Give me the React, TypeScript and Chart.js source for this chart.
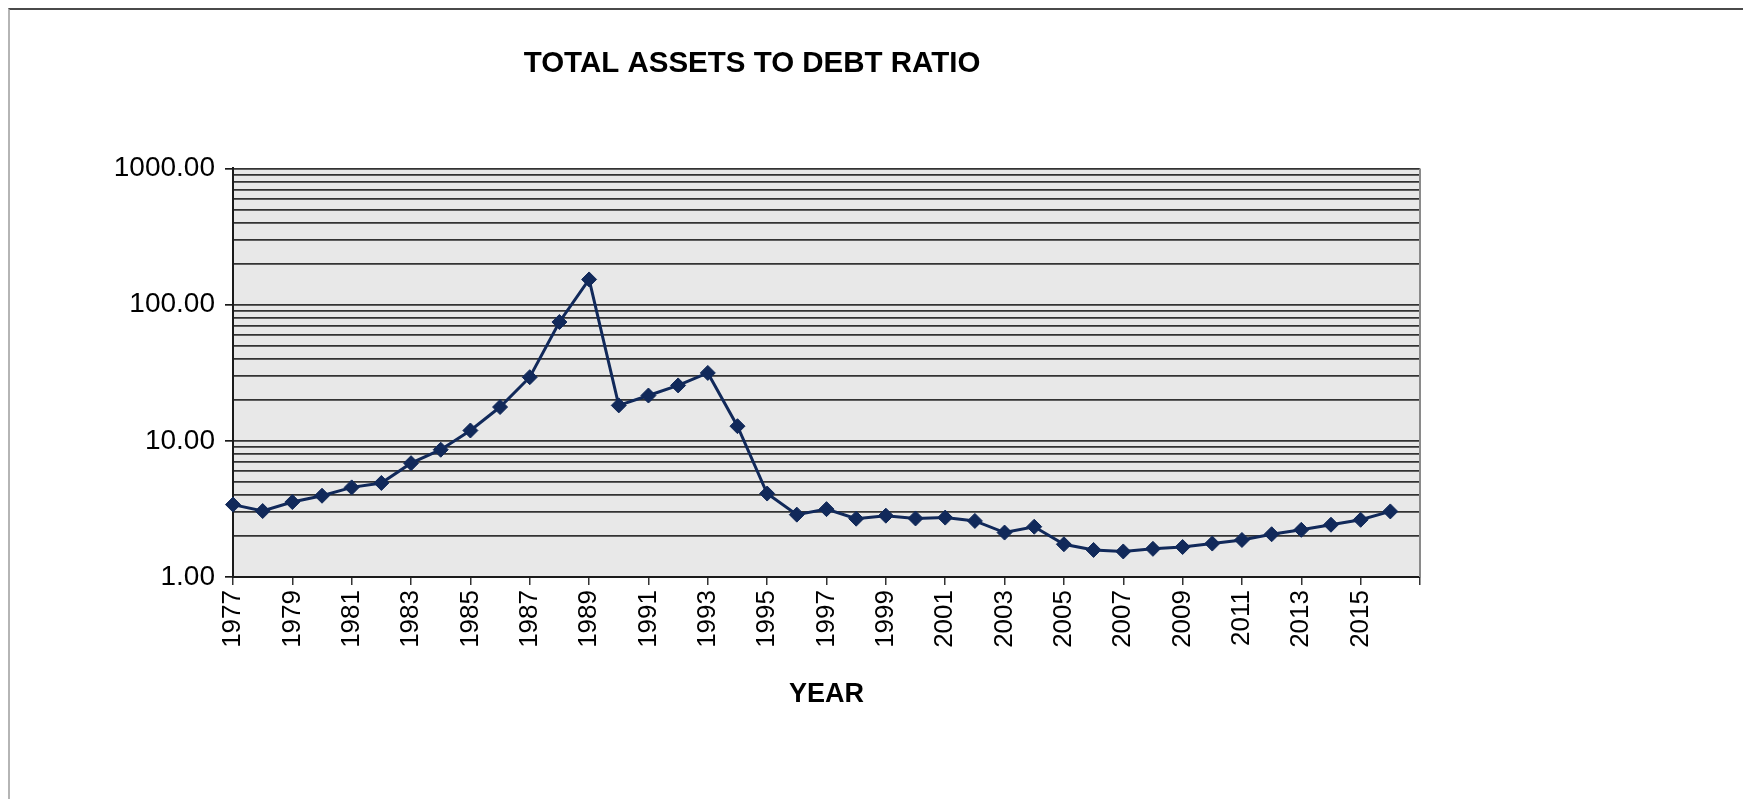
import React, { useEffect, useRef } from "react";
import { Chart, registerables } from "chart.js";

Chart.register(...registerables);

const years: string[] = [
  "1977", "1978", "1979", "1980", "1981", "1982", "1983", "1984", "1985", "1986",
  "1987", "1988", "1989", "1990", "1991", "1992", "1993", "1994", "1995", "1996",
  "1997", "1998", "1999", "2000", "2001", "2002", "2003", "2004", "2005", "2006",
  "2007", "2008", "2009", "2010", "2011", "2012", "2013", "2014", "2015", "2016",
  "2017",
];

const ratio: number[] = [
  3.4, 3.05, 3.55, 3.95, 4.55, 4.9, 6.85, 8.6, 11.9, 17.7,
  29.3, 74.5, 153, 18.2, 21.5, 25.5, 31.5, 12.8, 4.1, 2.87,
  3.15, 2.68, 2.82, 2.69, 2.73, 2.58, 2.12, 2.34, 1.74, 1.58,
  1.54, 1.61, 1.66, 1.76, 1.87, 2.06, 2.22, 2.42, 2.63, 3.03,
];

const yGridValues: number[] = [
  1, 2, 3, 4, 5, 6, 7, 8, 9,
  10, 20, 30, 40, 50, 60, 70, 80, 90,
  100, 200, 300, 400, 500, 600, 700, 800, 900,
  1000,
];
const yLabelValues: number[] = [1, 10, 100, 1000];

const FONT = "'Liberation Sans', Arial, Helvetica, sans-serif";
const NAVY = "#11295a";

const plotBg = {
  id: "plotBg",
  beforeDraw(chart: any) {
    const { ctx, chartArea } = chart;
    if (!chartArea) return;
    ctx.save();
    ctx.fillStyle = "#e8e8e8";
    ctx.fillRect(chartArea.left, chartArea.top, chartArea.right - chartArea.left, chartArea.bottom - chartArea.top);
    ctx.restore();
  },
  afterDatasetsDraw(chart: any) {
    const { ctx, chartArea } = chart;
    ctx.save();
    ctx.strokeStyle = "#8a8a8a";
    ctx.lineWidth = 2;
    ctx.beginPath();
    ctx.moveTo(chartArea.right, chartArea.top);
    ctx.lineTo(chartArea.right, chartArea.bottom);
    ctx.stroke();
    ctx.restore();
  },
};

export default function App() {
  const ref = useRef<HTMLCanvasElement | null>(null);

  useEffect(() => {
    if (!ref.current) return;
    const chart = new Chart(ref.current, {
      type: "line",
      data: {
        labels: years,
        datasets: [
          {
            data: ratio,
            borderColor: NAVY,
            backgroundColor: NAVY,
            borderWidth: 3,
            pointStyle: "rectRot",
            pointRadius: 7.5,
            pointBorderWidth: 1,
            pointBorderColor: NAVY,
            tension: 0,
          },
        ],
      },
      options: {
        animation: false,
        responsive: false,
        devicePixelRatio: 1,
        layout: { padding: { left: 74, right: 326, top: 0, bottom: 88 } },
        plugins: {
          legend: { display: false },
          tooltip: { enabled: false },
          title: {
            display: true,
            text: "TOTAL ASSETS TO DEBT RATIO",
            color: "#000",
            font: { family: FONT, size: 29.5, weight: "bold" },
            padding: { top: 36, bottom: 87 },
          },
        },
        scales: {
          x: {
            type: "category",
            offset: false,
            border: { display: true, color: "#1a1a1a", width: 2 },
            grid: {
              display: true,
              drawOnChartArea: false,
              drawTicks: true,
              tickLength: 8,
              color: "#333",
              lineWidth: 1.5,
            },
            ticks: {
              autoSkip: false,
              minRotation: 90,
              maxRotation: 90,
              padding: 5,
              color: "#000",
              font: { family: FONT, size: 26 },
              callback: (_v: any, i: number) => {
                if (i % 2 === 1) return null;
                if (i >= ratio.length) return "";
                return years[i];
              },
            },
            title: {
              display: true,
              text: "YEAR",
              color: "#000",
              font: { family: FONT, size: 27, weight: "bold" },
              padding: { top: 0, bottom: 0 },
            },
            afterFit: (scale: any) => {
              scale.height = 134;
            },
          },
          y: {
            type: "logarithmic",
            min: 1,
            max: 1000,
            border: { display: true, color: "#1a1a1a", width: 2 },
            grid: {
              color: "#333",
              lineWidth: 1.7,
              drawTicks: true,
              tickLength: 8,
              tickColor: (ctx: any) =>
                ctx.tick && yLabelValues.includes(ctx.tick.value) ? "#1a1a1a" : "rgba(0,0,0,0)",
            },
            afterBuildTicks: (scale: any) => {
              scale.ticks = yGridValues.map((v) => ({ value: v }));
            },
            ticks: {
              autoSkip: false,
              padding: 10,
              color: "#000",
              font: { family: FONT, size: 28 },
              callback: (v: any) => (yLabelValues.includes(Number(v)) ? Number(v).toFixed(2) : ""),
            },
            afterFit: (scale: any) => {
              scale.width = 149;
            },
          },
        },
      },
      plugins: [plotBg],
    });
    return () => chart.destroy();
  }, []);

  return (
    <div
      style={{
        width: 1737,
        height: 791,
        borderTop: "2px solid #4a4a4a",
        borderLeft: "2px solid #b5b5b5",
        borderRight: "1px solid #d8d8d8",
        boxSizing: "border-box",
        overflow: "hidden",
        background: "#fff",
      }}
    >
      <canvas ref={ref} width={1736} height={789} style={{ display: "block" }} />
    </div>
  );
}
